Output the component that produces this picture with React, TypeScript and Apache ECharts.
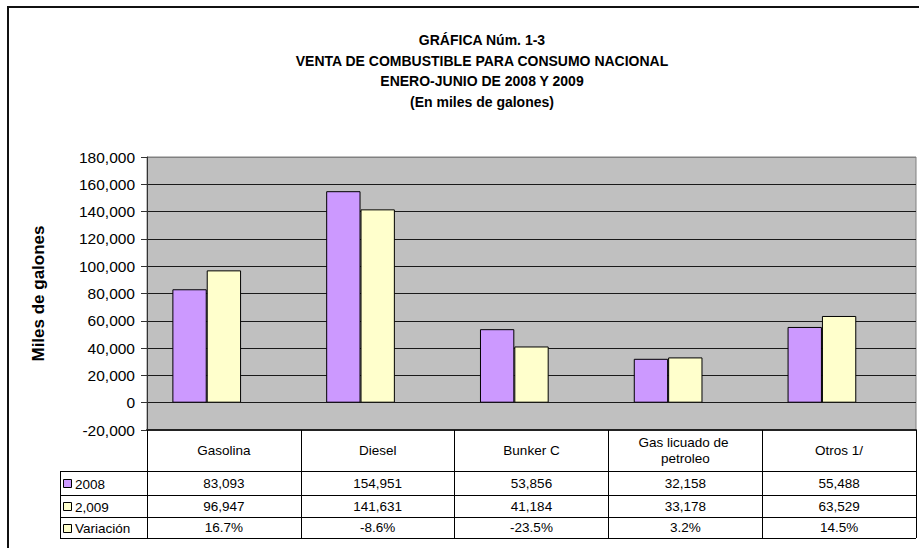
import React, { useEffect, useRef } from "react";
import * as echarts from "echarts";

const titleLines = [
  "GRÁFICA Núm. 1-3",
  "VENTA DE COMBUSTIBLE PARA CONSUMO NACIONAL",
  "ENERO-JUNIO DE 2008 Y 2009",
  "(En miles de galones)",
];
const categories = ["Gasolina", "Diesel", "Bunker C", "Gas licuado de petroleo", "Otros 1/"];
const values2008 = [83093, 154951, 53856, 32158, 55488];
const values2009 = [96947, 141631, 41184, 33178, 63529];
const variacion = [16.7, -8.6, -23.5, 3.2, 14.5];
const rowLabels = ["2008", "2,009", "Variación"];
const yMin = -20000;
const yMax = 180000;
const yInterval = 20000;

const FONT = "'Liberation Sans', Arial, sans-serif";
const C2008 = "#CC99FF";
const C2009 = "#FFFFCC";
const CVAR = "#FFFFCC";

const fmt = (v: number) => v.toLocaleString("en-US");

export default function App() {
  const ref = useRef<HTMLDivElement>(null);
  useEffect(() => {
    if (!ref.current) return;
    const chart = echarts.init(ref.current, null, { renderer: "svg" });
    const nLines = Math.round((yMax - yMin) / yInterval) + 1;
    const splitColors = Array.from({ length: nLines }, (_, i) => (i === nLines - 1 ? "#808080" : "#1a1a1a"));
    chart.setOption({
      animation: false,
      backgroundColor: "#ffffff",
      title: {
        text: titleLines.join("\n"),
        left: 477,
        top: 25,
        textAlign: "center",
        textStyle: { fontFamily: FONT, fontSize: 14, fontWeight: "bold", lineHeight: 20.5, color: "#000" },
      },
      grid: {
        left: 147,
        top: 157,
        right: 3,
        bottom: 118,
        show: true,
        backgroundColor: "#C0C0C0",
        borderColor: "#808080",
        borderWidth: 1,
      },
      xAxis: {
        type: "category",
        data: categories,
        boundaryGap: true,
        axisLine: { show: true, onZero: false, lineStyle: { color: "#222", width: 2 } },
        axisTick: { show: true, interval: 0, length: 108, lineStyle: { color: "#000", width: 1 } },
        axisLabel: {
          interval: 0,
          margin: 20,
          verticalAlign: "middle",
          fontFamily: FONT,
          fontSize: 13.5,
          lineHeight: 16,
          color: "#000",
          width: 110,
          overflow: "break",
        },
        splitLine: { show: false },
      },
      yAxis: {
        type: "value",
        min: yMin,
        max: yMax,
        interval: yInterval,
        name: "Miles de galones",
        nameLocation: "middle",
        nameGap: 100,
        nameTextStyle: { fontFamily: FONT, fontSize: 17, fontWeight: "bold", color: "#000" },
        axisLine: { show: true, lineStyle: { color: "#333", width: 1 } },
        axisTick: { show: true, length: 6, lineStyle: { color: "#333" } },
        axisLabel: { fontFamily: FONT, fontSize: 15.5, color: "#000", margin: 12, formatter: (v: number) => fmt(v) },
        splitLine: { show: true, lineStyle: { color: splitColors, width: 1 } },
      },
      series: [
        {
          name: "2008",
          type: "bar",
          data: values2008,
          barGap: "0%",
          barCategoryGap: "33%",
          itemStyle: { color: C2008, borderColor: "#000", borderWidth: 1 },
        },
        {
          name: "2,009",
          type: "bar",
          data: values2009,
          barGap: "0%",
          barCategoryGap: "33%",
          itemStyle: { color: C2009, borderColor: "#000", borderWidth: 1 },
        },
        {
          name: "Variación",
          type: "bar",
          data: variacion.map((v) => v / 100),
          barGap: "0%",
          barCategoryGap: "33%",
          itemStyle: { color: CVAR, borderWidth: 0 },
        },
      ],
    });

    const colX = categories.map((_, i) => chart.convertToPixel({ xAxisIndex: 0 }, i) as number);
    const yBottom = chart.convertToPixel({ yAxisIndex: 0 }, yMin) as number;
    const colW = colX.length > 1 ? colX[1] - colX[0] : 150;
    const tableLeft = 60;
    const tableRight = colX[colX.length - 1] + colW / 2;
    const headerH = 41;
    const rowHs = [24, 22, 21];
    const rowTops: number[] = [];
    let acc = yBottom + headerH;
    rowHs.forEach((h) => {
      rowTops.push(acc);
      acc += h;
    });
    const tableBottom = acc;
    const rowValues = [
      values2008.map((v) => fmt(v)),
      values2009.map((v) => fmt(v)),
      variacion.map((v) => v.toFixed(1) + "%"),
    ];
    const keyColors = [C2008, C2009, CVAR];

    const graphic: any[] = [];
    graphic.push({
      type: "rect",
      silent: true,
      z: -10,
      shape: { x: 8, y: 7, width: 1000, height: 1000 },
      style: { fill: "none", stroke: "#111", lineWidth: 2 },
    });
    [...rowTops, tableBottom].forEach((y) => {
      const yy = Math.round(y) + 0.5;
      graphic.push({
        type: "line",
        silent: true,
        shape: { x1: tableLeft, y1: yy, x2: tableRight, y2: yy },
        style: { stroke: "#000", lineWidth: 1 },
      });
    });
    graphic.push({
      type: "line",
      silent: true,
      shape: { x1: tableLeft + 0.5, y1: rowTops[0], x2: tableLeft + 0.5, y2: tableBottom },
      style: { stroke: "#000", lineWidth: 1 },
    });
    rowLabels.forEach((lab, r) => {
      const cy = rowTops[r] + rowHs[r] / 2;
      graphic.push({
        type: "rect",
        silent: true,
        shape: { x: 63.5, y: Math.round(cy - 4) + 0.5, width: 8, height: 8 },
        style: { fill: keyColors[r], stroke: "#000", lineWidth: 1 },
      });
      graphic.push({
        type: "text",
        silent: true,
        style: {
          text: lab,
          x: 75,
          y: cy + 1,
          textAlign: "left",
          textVerticalAlign: "middle",
          font: `13.5px ${FONT}`,
          fill: "#000",
        },
      });
      rowValues[r].forEach((txt, i) => {
        graphic.push({
          type: "text",
          silent: true,
          style: {
            text: txt,
            x: colX[i],
            y: cy,
            textAlign: "center",
            textVerticalAlign: "middle",
            font: `13.5px ${FONT}`,
            fill: "#000",
          },
        });
      });
    });
    chart.setOption({ graphic });
    return () => chart.dispose();
  }, []);
  return <div ref={ref} style={{ position: "fixed", left: 0, top: 0, width: 919, height: 548 }} />;
}
